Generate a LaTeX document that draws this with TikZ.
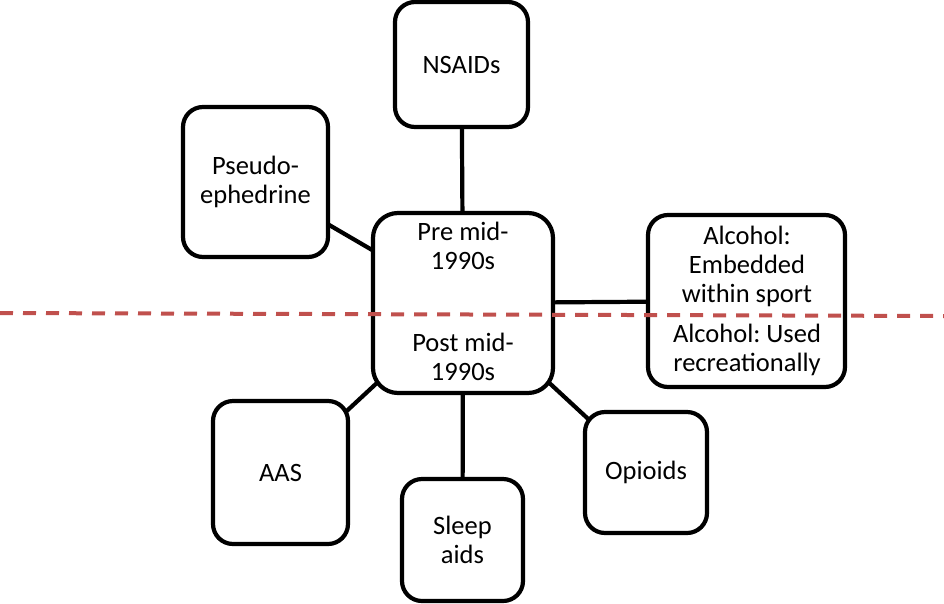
\documentclass[tikz,border=0pt]{standalone}
\usepackage{fontspec}
\setmainfont{Carlito}
\frenchspacing
\definecolor{reddash}{HTML}{C0504D}
\pgfdeclarelayer{bg}
\pgfsetlayers{bg,main}
\tikzset{
  box/.style={draw=black, line width=4.2pt, rounded corners=20pt, fill=white, inner sep=0pt, align=center,
    font=\fontsize{26.5}{29}\selectfont},
  txt/.style={inner sep=0pt, align=center, font=\fontsize{26.5}{29}\selectfont},
  conn/.style={draw=black, line width=4.2pt},
  divider/.style={draw=reddash, line width=4pt, dash pattern=on 13pt off 10pt}
}
\begin{document}
\begin{tikzpicture}[x=1pt,y=-1pt]
\useasboundingbox (0,0) rectangle (944,603);
\node[box, minimum width=133pt, minimum height=125pt] (nsaids) at (461.5,64.5) {NSAIDs};
\node[box, minimum width=145pt, minimum height=150pt] (pseudo) at (255.5,182) {Pseudo-\\ephedrine};
\node[box, minimum width=135pt, minimum height=143pt] (aas) at (280.5,472.5) {AAS};
\node[box, minimum width=121pt, minimum height=122pt] (sleep) at (462.5,540) {Sleep\\aids};
\node[box, minimum width=122pt, minimum height=121pt] (opioids) at (646,472.5) {Opioids};
\node[box, minimum width=180pt, minimum height=180pt, rounded corners=25pt] (central) at (463,303) {};
\node[box, minimum width=197pt, minimum height=172pt] (alcohol) at (746.5,301) {};
\node[txt] (pre) at (463,246) {Pre mid-\\1990s};
\node[txt] (post) at (463,357) {Post mid-\\1990s};
\node[txt] (alcup) at (747,266) {Alcohol:\\Embedded\\within sport};
\node[txt] (alclow) at (747,350) {Alcohol: Used\\recreationally};
\coordinate (dl) at (0,313);
\coordinate (dr) at (944,316);
\begin{pgfonlayer}{bg}
\draw[conn] (nsaids.center) -- (central.center);
\draw[conn] (pseudo.center) -- (central.center);
\draw[conn] (aas.center) -- (central.center);
\draw[conn] (sleep.center) -- (central.center);
\draw[conn] (opioids.center) -- (central.center);
\draw[conn] (alcohol.center) -- (central.center);
\end{pgfonlayer}
\draw[divider] (dl) -- (dr);
\end{tikzpicture}
\end{document}
